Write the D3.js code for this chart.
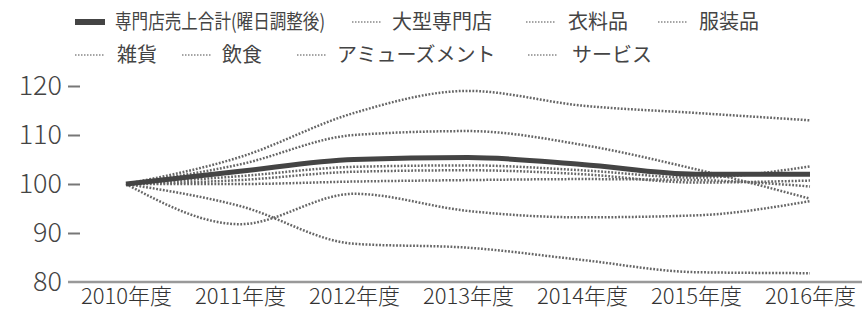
<!DOCTYPE html>
<html>
<head>
<meta charset="utf-8">
<script src="https://cdn.jsdelivr.net/npm/d3@7"></script>
<style>
  body { margin: 0; background: #fff; }
  svg { display: block; font-family: "Noto Sans CJK JP", "Noto Sans", sans-serif; }
</style>
</head>
<body>
<div class="chart"></div>
<script>
const years = ["2010年度", "2011年度", "2012年度", "2013年度", "2014年度", "2015年度", "2016年度"];
const yTicks = [80, 90, 100, 110, 120];

const seriesNames = ["専門店売上合計(曜日調整後)", "大型専門店", "衣料品", "服装品", "雑貨", "飲食", "アミューズメント", "サービス"];
const total = [100, 102.6, 105, 105.4, 104, 102, 102];
const ogata = [100, 104, 110, 110.8, 108, 103, 97];
const iryo = [100, 101.6, 103.5, 103.8, 102.8, 101.3, 103.6];
const fukuso = [100, 100.8, 102.5, 102.8, 102, 100.3, 100.7];
const zakka = [100, 100, 100.5, 100.8, 101, 100.8, 99.5];
const inshoku = [100, 91.8, 98, 94.5, 93.2, 93.6, 96.5];
const amuse = [100, 105.5, 114.5, 119, 116, 114.5, 113];
const service = [100, 95.5, 87.8, 87, 84.5, 82, 81.8];

const allValues = [total, ogata, iryo, fukuso, zakka, inshoku, amuse, service];

const svgWidth = 862;
const svgHeight = 314;

const svg = d3.select(".chart")
  .append("svg")
  .attr("width", svgWidth)
  .attr("height", svgHeight);

const x = d3.scalePoint().domain(years).range([126, 810]);
const y = d3.scaleLinear().domain([80, 120]).range([282, 86]);

// y axis: labels with a short dash after them
const yAxis = svg.append("g")
  .attr("transform", "translate(68,0)")
  .call(d3.axisLeft(y).tickValues(yTicks).tickSize(0).tickPadding(6));
yAxis.select(".domain").remove();
yAxis.selectAll("text")
  .attr("font-size", 27)
  .attr("font-weight", 300)
  .attr("fill", "#444")
  .attr("font-family", "\"Noto Sans CJK JP\", sans-serif");
yAxis.selectAll(".tick")
  .filter((d) => d !== 80)
  .append("line")
  .attr("x1", 0).attr("x2", 12)
  .attr("stroke", "#777").attr("stroke-width", 2);

// baseline at 80
svg.append("line")
  .attr("x1", 68).attr("x2", svgWidth)
  .attr("y1", y(80)).attr("y2", y(80))
  .attr("stroke", "#999").attr("stroke-width", 2.5);

// x axis labels
const xAxis = svg.append("g")
  .attr("transform", `translate(0,${y(80)})`)
  .call(d3.axisBottom(x).tickSize(0).tickPadding(6));
xAxis.select(".domain").remove();
xAxis.selectAll("text")
  .attr("font-size", 22)
  .attr("font-weight", 300)
  .attr("fill", "#333")
  .attr("font-family", "\"Noto Sans CJK JP\", sans-serif");

const line = d3.line()
  .x((d, i) => x(years[i]))
  .y((d) => y(d))
  .curve(d3.curveMonotoneX);

// dotted series first, total on top
allValues.slice(1).forEach((vals) => {
  svg.append("path")
    .datum(vals)
    .attr("fill", "none")
    .attr("stroke", "#666")
    .attr("stroke-width", 2.5)
    .attr("stroke-dasharray", "1.8,1.6")
    .attr("d", line);
});
svg.append("path")
  .datum(total)
  .attr("fill", "none")
  .attr("stroke", "#444")
  .attr("stroke-width", 5)
  .attr("d", line);

// legend
const legendItems = [
  { name: seriesNames[0], sx: 75, tx: 115, ty: 22, w: 210, thick: true },
  { name: seriesNames[1], sx: 352, tx: 392, ty: 22 },
  { name: seriesNames[2], sx: 526, tx: 568, ty: 22 },
  { name: seriesNames[3], sx: 658, tx: 699, ty: 22 },
  { name: seriesNames[4], sx: 75, tx: 117, ty: 55 },
  { name: seriesNames[5], sx: 182, tx: 222, ty: 55 },
  { name: seriesNames[6], sx: 297, tx: 337, ty: 55 },
  { name: seriesNames[7], sx: 528, tx: 572, ty: 55 },
];
const legend = svg.append("g").attr("class", "legend");
legendItems.forEach((d) => {
  const sw = legend.append("line")
    .attr("x1", d.sx).attr("x2", d.sx + 30)
    .attr("y1", d.ty).attr("y2", d.ty);
  if (d.thick) {
    sw.attr("stroke", "#444").attr("stroke-width", 6);
  } else {
    sw.attr("stroke", "#888").attr("stroke-width", 1.6).attr("stroke-dasharray", "1.5,1.5");
  }
  const t = legend.append("text")
    .attr("x", d.tx).attr("y", d.ty)
    .attr("dy", "0.36em")
    .attr("font-size", 20)
    .attr("fill", "#444")
    .text(d.name);
  if (d.w) t.attr("textLength", d.w).attr("lengthAdjust", "spacingAndGlyphs");
});
</script>
</body>
</html>
